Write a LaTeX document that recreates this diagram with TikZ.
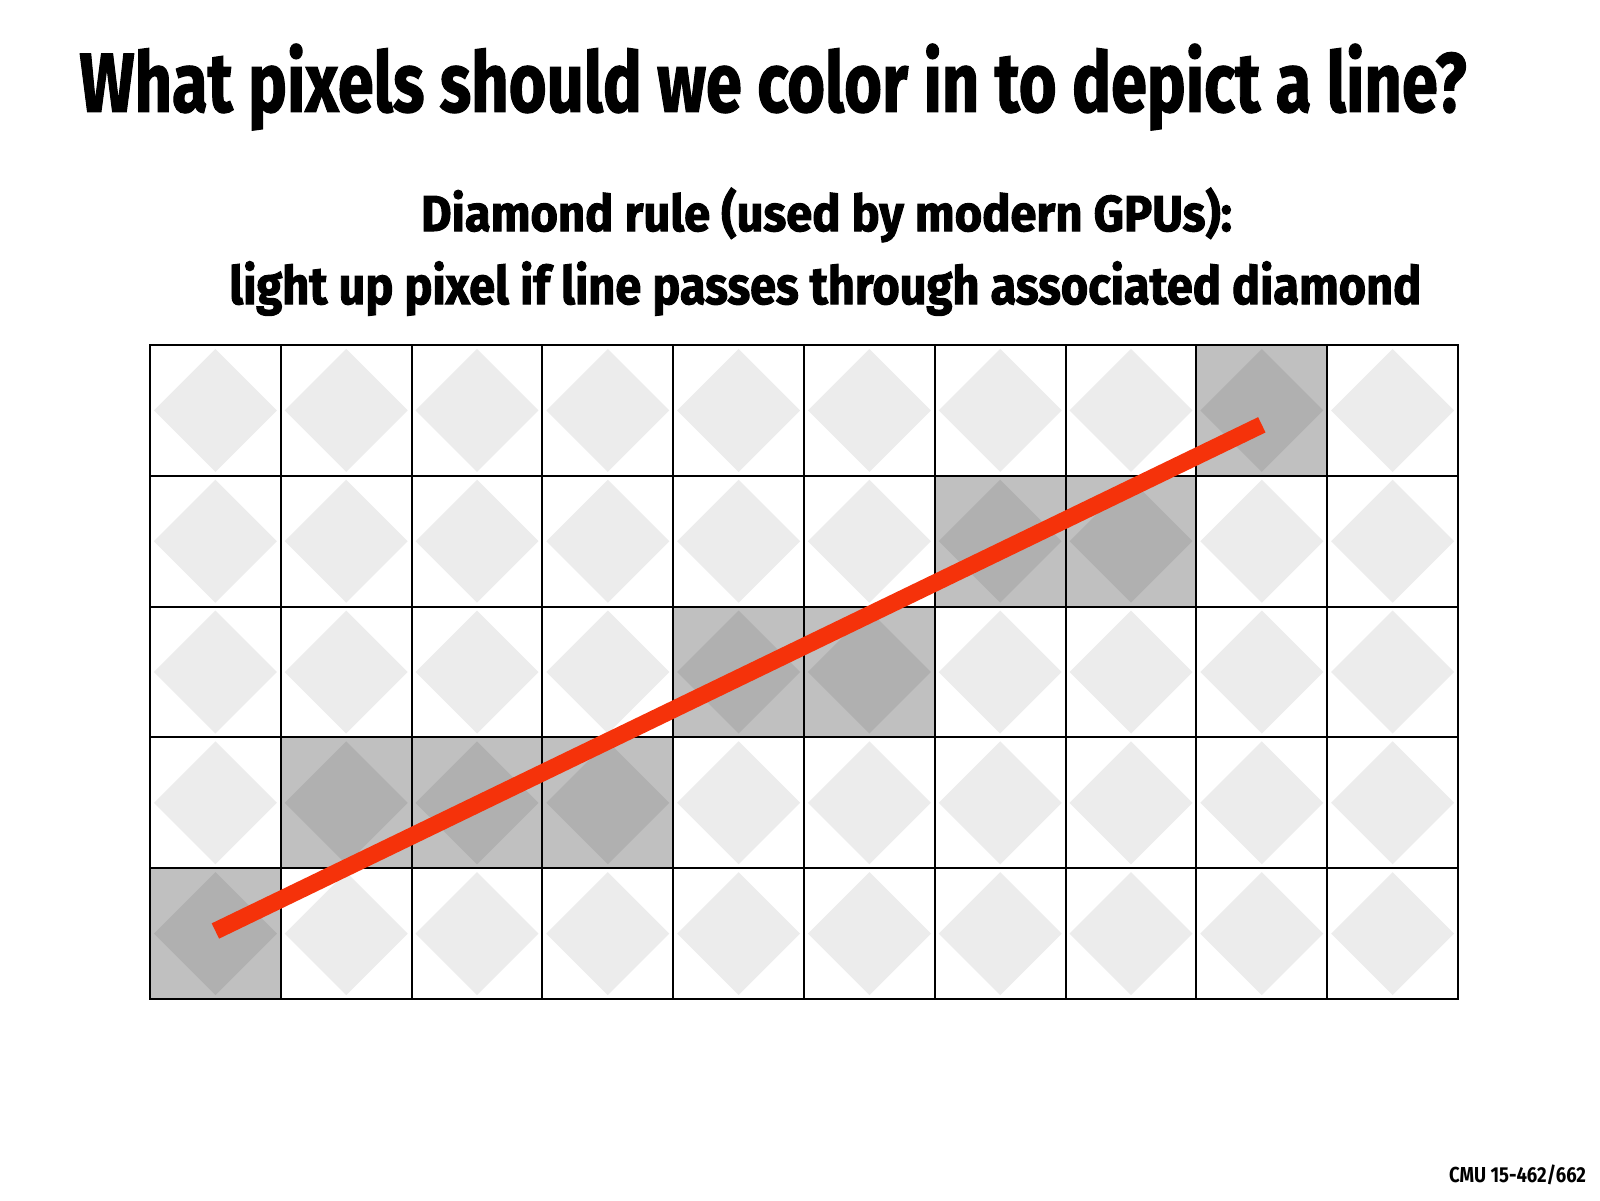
\documentclass[tikz,border=0pt]{standalone}
\usepackage{fontspec}
\setmainfont{Fira Sans}
\newfontfamily\subfont{Fira Sans}[BoldFeatures={FakeBold=2}]
\newfontfamily\titlefont{Fira Sans}[BoldFeatures={FakeBold=1.5}]
\definecolor{lightdia}{RGB}{236,236,236}
\definecolor{cellgray}{RGB}{192,192,192}
\definecolor{darkdia}{RGB}{176,176,176}
\definecolor{linered}{RGB}{245,50,10}
\newlength\fitw \newlength\fith
\newcommand\fittext[3]{\settowidth\fitw{#3}\settoheight\fith{H}%
\pgfmathsetmacro\fitxs{(#1)/(\the\fitw)}\pgfmathsetmacro\fitys{(#2)/(\the\fith)}%
\scalebox{\fitxs}[\fitys]{#3}}
\tikzset{
  txt/.style={inner sep=0pt, outer sep=0pt, anchor=base west, font=\bfseries},
  titletxt/.style={txt, font=\titlefont\bfseries},
  subtxt/.style={txt, font=\subfont\bfseries},
  gridline/.style={line width=0.02cm, black, line cap=rect},
  redline/.style={line width=0.17cm, linered},
}
\begin{document}
\begin{tikzpicture}
\useasboundingbox (0,0) rectangle (16,-12);
\fill[white] (0,0) rectangle (16,-12);
\node[titletxt] (title) at (0.795,-1.117) {\fittext{13.87cm}{0.58cm}{What pixels should we color in to depict a line?}};
\node[subtxt] (sub1) at (4.21,-2.31) {\fittext{8.11cm}{0.35cm}{Diamond rule (used by modern GPUs):}};
\node[subtxt] (sub2) at (2.293,-3.04) {\fittext{11.92cm}{0.365cm}{light up pixel if line passes through associated diamond}};
\node[txt] (foot) at (14.49,-11.82) {\fittext{1.37cm}{0.15cm}{CMU 15-462/662}};
\begin{scope}[shift={(1.50,-9.99)}, x=1.308cm, y=1.308cm]
  \foreach \i in {0,...,9} \foreach \j in {0,...,4} {
    \fill[lightdia] (\i+0.5,\j+0.03) -- (\i+0.97,\j+0.5) -- (\i+0.5,\j+0.97) -- (\i+0.03,\j+0.5) -- cycle;
  }
  \foreach \i/\j in {0/0,1/1,2/1,3/1,4/2,5/2,6/3,7/3,8/4} {
    \fill[cellgray] (\i,\j) rectangle ++(1,1);
    \fill[darkdia] (\i+0.5,\j+0.03) -- (\i+0.97,\j+0.5) -- (\i+0.5,\j+0.97) -- (\i+0.03,\j+0.5) -- cycle;
  }
  \foreach \i in {0,...,10} \draw[gridline] (\i,0) -- (\i,5);
  \foreach \j in {0,...,5} \draw[gridline] (0,\j) -- (10,\j);
  \coordinate (ls) at (0.5,0.52);
  \coordinate (le) at (8.5,4.39);
  \draw[redline] (ls) -- (le);
\end{scope}
\end{tikzpicture}
\end{document}
